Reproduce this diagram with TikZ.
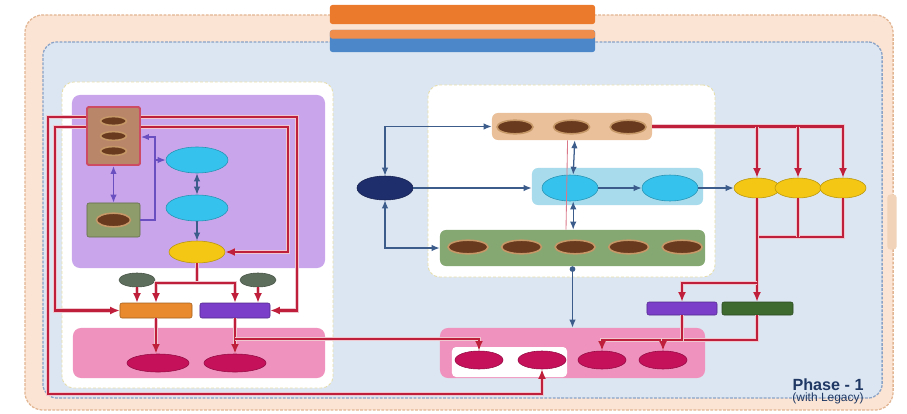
\documentclass[tikz,border=0pt]{standalone}
\usepackage{fontspec}
\setmainfont{Liberation Sans}
\usetikzlibrary{arrows.meta,positioning,shapes.geometric}
\definecolor{Peach}{HTML}{FBE4D3}
\definecolor{PeachRule}{HTML}{E2B593}
\definecolor{Sky}{HTML}{DCE6F2}
\definecolor{SkyRule}{HTML}{8AA3C6}
\definecolor{Banner}{HTML}{EC7A2C}
\definecolor{BannerBlue}{HTML}{4B87C9}
\definecolor{PanelRule}{HTML}{E6DDA8}
\definecolor{Lilac}{HTML}{C9A6EC}
\definecolor{Rose}{HTML}{EF92BD}
\definecolor{Magenta}{HTML}{C5105A}
\definecolor{Crimson}{HTML}{C01F3C}
\definecolor{Steel}{HTML}{3C5C8C}
\definecolor{Violet}{HTML}{6A4FC0}
\definecolor{Cyan}{HTML}{35C3EE}
\definecolor{CyanSoft}{HTML}{A8DCEC}
\definecolor{Sun}{HTML}{F4C714}
\definecolor{Navy}{HTML}{1E2D6C}
\definecolor{Tan}{HTML}{EAC09B}
\definecolor{Moss}{HTML}{85A873}
\definecolor{Olive}{HTML}{8E9C6B}
\definecolor{Bark}{HTML}{6A3A1E}
\definecolor{BarkRim}{HTML}{C69868}
\definecolor{Clay}{HTML}{B9866A}
\definecolor{Ash}{HTML}{5E6E5C}
\definecolor{Amber}{HTML}{EA8A2E}
\definecolor{Grape}{HTML}{7A3EC8}
\definecolor{Pine}{HTML}{3E6A2F}
\definecolor{Ink}{HTML}{1F3864}
\tikzset{
  outerframe/.style={draw=PeachRule,fill=Peach,rounded corners=.45cm,line width=.9pt,dash pattern=on 2pt off 1pt},
  innerframe/.style={draw=SkyRule,fill=Sky,rounded corners=.35cm,line width=.9pt,dash pattern=on 2pt off 1pt},
  sidetab/.style={fill=Tan!70,rounded corners=.08cm},
  banner/.style={fill=Banner,rounded corners=.06cm},
  bannerlow/.style={fill=BannerBlue,rounded corners=.06cm,path picture={\fill[Banner!85] (path picture bounding box.north west) rectangle ([yshift=.06cm]path picture bounding box.east);}},
  whitepanel/.style={draw=PanelRule,fill=white,rounded corners=.3cm,line width=.6pt,dash pattern=on 2pt off 1.5pt},
  zone/.style={rounded corners=.2cm},
  bar/.style={rounded corners=.15cm},
  box/.style={draw=#1!70!black,fill=#1,rounded corners=.05cm,line width=.4pt},
  oval/.style={ellipse,inner sep=0pt,fill=#1,draw=#1!75!black,line width=.4pt},
  brownoval/.style={ellipse,inner sep=0pt,fill=Bark,draw=BarkRim,line width=1.1pt,minimum width=#1,minimum height=.34cm},
  redline/.style={draw=Crimson,line width=1.5pt,preaction={draw=Crimson!25,line width=3.2pt}},
  redflow/.style={redline,-{Latex[length=2.4mm,width=2mm]}},
  blueflow/.style={draw=Steel,line width=.9pt,-{Latex[length=2mm,width=1.6mm]}},
  bothways/.style={{Latex[length=2mm,width=1.6mm]}-{Latex[length=2mm,width=1.6mm]}},
  purpflow/.style={draw=Violet,line width=.9pt,-{Latex[length=2mm,width=1.6mm]}},
  phase/.style={text=Ink,font=\bfseries\fontsize{11.5}{12}\selectfont,inner sep=0pt}
}
\begin{document}
\begin{tikzpicture}[x=.025cm,y=-.025cm,node distance=.3cm]
\useasboundingbox (0,0) rectangle (907,414);
% frames and banners
\node[outerframe,minimum width=21.7cm,minimum height=9.875cm] (outer) at (459,212.5) {};
\node[sidetab,minimum width=.225cm,minimum height=1.375cm] (tab) at (892,222) {};
\node[innerframe,minimum width=20.975cm,minimum height=8.9cm] (inner) at (462.5,220) {};
\node[banner,minimum width=6.625cm,minimum height=.475cm] (bannerTop) at (462.5,14.5) {};
\node[bannerlow,minimum width=6.625cm,minimum height=.55cm] (bannerLow) at (462.5,41) {};

% left side
\node[whitepanel,minimum width=6.775cm,minimum height=7.65cm] (leftPanel) at (197.5,235) {};
\node[zone,fill=Lilac,minimum width=6.325cm,minimum height=4.325cm] (lilac) at (198.5,181.5) {};
\node[zone,fill=Rose,minimum width=6.3cm,minimum height=1.25cm] (roseL) at (199,353) {};
\node[box=Clay,draw=Crimson!80,line width=1.4pt,minimum width=1.325cm,minimum height=1.45cm] (src) at (113.5,136) {};
\node[brownoval=.65cm,minimum height=.22cm] (srcA) at (113.5,121) {};
\node[brownoval=.65cm,minimum height=.22cm] (srcB) at (113.5,136) {};
\node[brownoval=.65cm,minimum height=.22cm] (srcC) at (113.5,151) {};
\node[box=Olive,minimum width=1.325cm,minimum height=.85cm] (store) at (113.5,220) {};
\node[brownoval=.85cm] (storeOval) at (113.5,220) {};
\node[oval=Cyan,minimum width=1.55cm,minimum height=.65cm] (cyanA) at (197,160) {};
\node[oval=Cyan,minimum width=1.55cm,minimum height=.65cm] (cyanB) at (197,208) {};
\node[oval=Sun,minimum width=1.4cm,minimum height=.55cm] (sunL) at (197,252) {};
\node[oval=Ash,minimum width=.9cm,minimum height=.35cm] (ashL) at (137,280) {};
\node[oval=Ash,minimum width=.9cm,minimum height=.35cm] (ashR) at (258,280) {};
\node[box=Amber,minimum width=1.8cm,minimum height=.375cm] (amberBox) at (156,310.5) {};
\node[box=Grape,minimum width=1.75cm,minimum height=.375cm] (grapeBox) at (235,310.5) {};
\node[oval=Magenta,minimum width=1.55cm,minimum height=.45cm] (magL) at (158,363) {};
\node[oval=Magenta,minimum width=1.55cm,minimum height=.45cm] (magR) at (235,363) {};

% middle
\node[whitepanel,minimum width=7.175cm,minimum height=4.8cm] (midPanel) at (571.5,181) {};
\node[bar,fill=Tan,minimum width=4cm,minimum height=.675cm] (tan) at (572,126.5) {};
\node[brownoval=.9cm] (tanA) at (515,127) {};
\node[brownoval=.9cm,right=.475cm of tanA] (tanB) {};
\node[brownoval=.9cm,right=.475cm of tanB] (tanC) {};
\node[bar,fill=CyanSoft,minimum width=4.275cm,minimum height=.925cm] (cyanZone) at (617.5,186.5) {};
\node[oval=Cyan,minimum width=1.4cm,minimum height=.65cm] (cyanC) at (570,188) {};
\node[oval=Cyan,minimum width=1.4cm,minimum height=.65cm] (cyanD) at (670,188) {};
\node[bar,fill=Moss,minimum width=6.625cm,minimum height=.9cm] (moss) at (572.5,248) {};
\node[brownoval=1cm] (mossA) at (468,247) {};
\node[brownoval=1cm,right=of mossA] (mossB) {};
\node[brownoval=1cm,right=of mossB] (mossC) {};
\node[brownoval=1cm,right=of mossC] (mossD) {};
\node[brownoval=1cm,right=of mossD] (mossE) {};
\node[oval=Navy,minimum width=1.4cm,minimum height=.6cm] (navy) at (385,188) {};
\node[zone,fill=Rose,minimum width=6.625cm,minimum height=1.25cm] (roseR) at (572.5,353) {};
\node[zone,fill=white,rounded corners=.1cm,minimum width=2.875cm,minimum height=.75cm] (roseSub) at (509.5,362) {};
\node[oval=Magenta,minimum width=1.2cm,minimum height=.45cm] (magA) at (479,360) {};
\node[oval=Magenta,minimum width=1.2cm,minimum height=.45cm] (magB) at (542,360) {};
\node[oval=Magenta,minimum width=1.2cm,minimum height=.45cm] (magC) at (602,360) {};
\node[oval=Magenta,minimum width=1.2cm,minimum height=.45cm] (magD) at (663,360) {};

% right
\node[oval=Sun,minimum width=1.15cm,minimum height=.5cm] (sunA) at (757,188) {};
\node[oval=Sun,minimum width=1.15cm,minimum height=.5cm] (sunB) at (798,188) {};
\node[oval=Sun,minimum width=1.15cm,minimum height=.5cm] (sunC) at (843,188) {};
\node[box=Grape,minimum width=1.75cm,minimum height=.325cm] (grapeBox2) at (682,308.5) {};
\node[box=Pine,minimum width=1.775cm,minimum height=.325cm] (pineBox) at (757.5,308.5) {};
\node[phase] (phase) at (828,385) {Phase - 1};
\node[phase,font=\fontsize{8.5}{9}\selectfont,below=.04cm of phase] (legacy) {(with Legacy)};

% left connectors
\draw[purpflow,bothways] (src) -- (store);
\draw[purpflow] (store.east |- 0,220) -- (155,220) -- (155,137) -- (src.east |- 0,137);
\draw[purpflow] (cyanA.west -| 155,0) -- (cyanA.west);
\draw[blueflow,bothways] (cyanA) -- (cyanB);
\draw[blueflow] (cyanB) -- (sunL);
\draw[redflow] (src.east |- 0,117) -- (297,117) |- (grapeBox.east);
\draw[redflow] (src.east |- 0,127) -- (288,127) |- (sunL.east);
\draw[redflow] (src.west |- 0,127) -- (55,127) |- (amberBox.west);
\draw[redflow] (src.west |- 0,117) -- (48,117) -- (48,394) -| (magB.south);
\coordinate (fork) at (sunL.south |- 0,283);
\draw[redline] (sunL.south) -- (fork);
\draw[redflow] (fork) -| (amberBox.north);
\draw[redflow] (fork) -| (grapeBox.north);
\draw[redflow] (ashL) -- (ashL |- amberBox.north);
\draw[redflow] (ashR) -- (ashR |- grapeBox.north);
\draw[redflow] (amberBox.south) -- (amberBox.south |- magL.north);
\draw[redflow] (grapeBox.south) -- (magR.north);
\draw[redflow] (grapeBox.south |- 0,339) -| (magA.north);

% middle connectors
\draw[blueflow,bothways] (navy.north) |- (tan.west);
\draw[blueflow,bothways] (navy.south) |- (moss.west);
\draw[blueflow] (navy.east) -- (navy.east -| cyanZone.west);
\draw[blueflow] (cyanC) -- (cyanD);
\draw[blueflow] (cyanD.east) -- (sunA.west);
\draw[draw=Crimson!60,line width=.6pt] ([xshift=-.1cm]tanB.south |- tan.south) -- ([xshift=-.1cm]cyanC.south |- moss.north);
\draw[blueflow,bothways] ([xshift=.08cm]tanB.south |- tan.south) -- ([xshift=.08cm]cyanC.north);
\draw[blueflow,bothways] ([xshift=.08cm]cyanC.south) -- ([xshift=.08cm]cyanC.south |- moss.north);
\draw[blueflow,{Circle[length=1.4mm]}-{Latex[length=2mm,width=1.6mm]}] (moss.south) -- (roseR.north);

% right connectors
\draw[redflow] (tan.east) -| (sunC.north);
\draw[redflow] (sunA.north |- tan.east) -- (sunA.north);
\draw[redflow] (sunB.north |- tan.east) -- (sunB.north);
\draw[redline] (sunC.south) |- (sunA.south |- 0,237);
\draw[redline] (sunB.south) -- (sunB.south |- 0,237);
\draw[redflow] (sunA.south) -- (sunA.south |- pineBox.north);
\draw[redflow] (sunA.south |- 0,283) -| (grapeBox2.north);
\draw[redflow] (sunA.south |- pineBox.south) |- (magC.north |- 0,340) -- (magC.north);
\draw[redflow] (grapeBox2.south) |- (magD.north |- 0,340) -- (magD.north);
\end{tikzpicture}
\end{document}
